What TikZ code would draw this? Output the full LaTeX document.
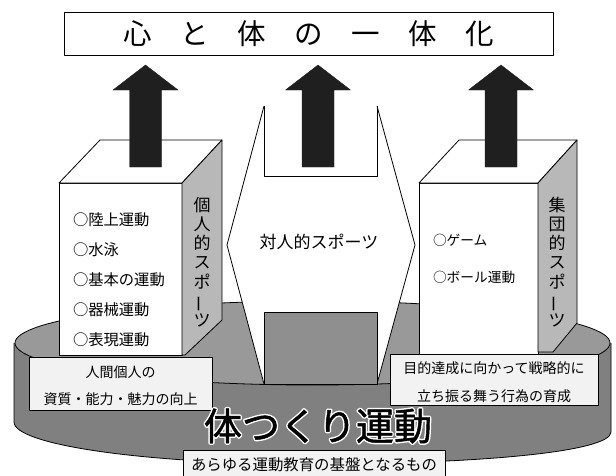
\documentclass[tikz,border=0pt]{standalone}
\usepackage{fontspec}
\setmainfont{Noto Sans CJK JP}
\newfontfamily\halojp[FakeBold=9]{Noto Sans CJK JP}
\newfontfamily\heavyjp[FakeBold=1.2]{Noto Sans CJK JP}
\usepackage{graphicx}
\usetikzlibrary{calc}
\definecolor{topgray}{gray}{0.60}
\definecolor{sidegray}{gray}{0.50}
\definecolor{facegray}{gray}{0.72}
\definecolor{rectgray}{gray}{0.56}
\definecolor{labelfill}{gray}{0.95}
\definecolor{arrowfill}{gray}{0.12}
\newcommand{\fsz}[1]{\fontsize{#1}{#1}\selectfont}
\newcommand{\vbar}{\rotatebox[origin=c]{90}{ー}}
\begin{document}
\begin{tikzpicture}[x=1pt,y=-1pt,line join=round,
  outl/.style={draw=black,line width=0.8pt},
  txt/.style={inner sep=0pt,outer sep=0pt,text=black},
  lbl/.style={outl,fill=labelfill,inner sep=0pt},
  bigarrow/.style={fill=arrowfill,draw=arrowfill,line width=0.4pt},
  vtext/.style={txt,align=center,font=\fontsize{17}{19.2}\selectfont},
  listl/.style={txt,anchor=west,font=\fsz{15.3}},
  listr/.style={txt,anchor=west,font=\fsz{13.7}}]
\useasboundingbox (0,0) rectangle (616,475);

% ---- disk (cylinder) ----
\fill[sidegray] (14,343) -- (14,422) .. controls (14,445) and (147,464) .. (312,464)
  .. controls (477,464) and (611,452) .. (611,432) -- (611,343) -- cycle;
\draw[outl] (14,343) -- (14,422) .. controls (14,445) and (147,464) .. (312,464)
  .. controls (477,464) and (611,452) .. (611,432) -- (611,343);
\draw[outl,fill=topgray] (312.5,343) ellipse [x radius=297.5, y radius=42];

% ---- central block ----
\fill[white] (264,106) -- (227,245) -- (264,384) -- (377,384) -- (415,245) -- (377,106) -- cycle;
\draw[outl] (264,106) -- (227,245) -- (264,384) -- (377,384) -- (415,245) -- (377,106);
\draw[outl] (264,106) -- (264,176) -- (377,176) -- (377,106);
\draw[outl,fill=rectgray] (264,312) rectangle (377,384);
\node[txt,font=\fsz{17}] (taijin) at (319,242) {対人的スポーツ};

% ---- left box ----
\draw[outl,fill=white] (59,183) rectangle (182,355);
\draw[outl,fill=white] (59,183) -- (100,140) -- (222,140) -- (182,183) -- cycle;
\draw[outl,fill=facegray] (182,183) -- (222,140) -- (222,320) -- (185,355) -- (182,355) -- cycle;
\node[listl] (l1) at (73,220) {○陸上運動};
\node[listl] (l2) at (73,250) {○水泳};
\node[listl] (l3) at (73,280) {○基本の運動};
\node[listl] (l4) at (73,310) {○器械運動};
\node[listl] (l5) at (73,340) {○表現運動};
\node[vtext] (kojin) at (202,262) {個\\人\\的\\ス\\ポ\\\vbar\\ツ};

% ---- right box ----
\draw[outl,fill=white] (419,183) rectangle (538,354);
\draw[outl,fill=white] (419,183) -- (459,140) -- (577,140) -- (538,183) -- cycle;
\draw[outl,fill=facegray] (538,183) -- (577,140) -- (577,323) -- (553,352) -- (538,352) -- cycle;
\node[listr] (r1) at (433,240) {○ゲーム};
\node[listr] (r2) at (433,277) {○ボール運動};
\node[vtext] (shudan) at (557,262) {集\\団\\的\\ス\\ポ\\\vbar\\ツ};

% ---- arrows ----
\coordinate (a1) at (145.5,65);
\coordinate (a2) at (318,65);
\coordinate (a3) at (501,65);
\foreach \c in {a1,a2,a3}
  \fill[bigarrow] (\c) -- ++(32.5,25) -- ++(-16.5,0) -- ++(0,77) -- ++(-32,0)
    -- ++(0,-77) -- ++(-16.5,0) -- cycle;

% ---- top box ----
\node[outl,line width=0.7pt,fill=white,minimum width=489pt,minimum height=43pt,
  inner sep=0pt,font=\fsz{28.5}] (top) at (308.5,33.5) {心　と　体　の　一　体　化};

% ---- label boxes ----
\node[lbl,minimum width=183pt,minimum height=53pt] (lb1) at (120.5,383.5) {};
\node[txt,font=\fsz{14}] (lb1a) at (120.5,372) {人間個人の};
\node[txt,font=\fsz{14}] (lb1b) at (120.5,399) {資質・能力・魅力の向上};

\node[lbl,minimum width=208pt,minimum height=51pt] (lb2) at (494,379.5) {};
\node[txt,font=\fsz{14}] (lb2a) at (494,368) {目的達成に向かって戦略的に};
\node[txt,font=\fsz{14}] (lb2b) at (494,396) {立ち振る舞う行為の育成};

\node[lbl,minimum width=262pt,minimum height=32pt] (lb3) at (314,466) {};
\node[txt,font=\fsz{15.4}] (lb3a) at (314,465) {あらゆる運動教育の基盤となるもの};

% ---- big title (white halo behind black text) ----
\coordinate (bigc) at (318,426);
\node[txt,text=white,font=\halojp\fsz{38}] (halo) at (bigc) {体つくり運動};
\node[txt,font=\heavyjp\fsz{38}] (big) at (bigc) {体つくり運動};
\end{tikzpicture}
\end{document}
